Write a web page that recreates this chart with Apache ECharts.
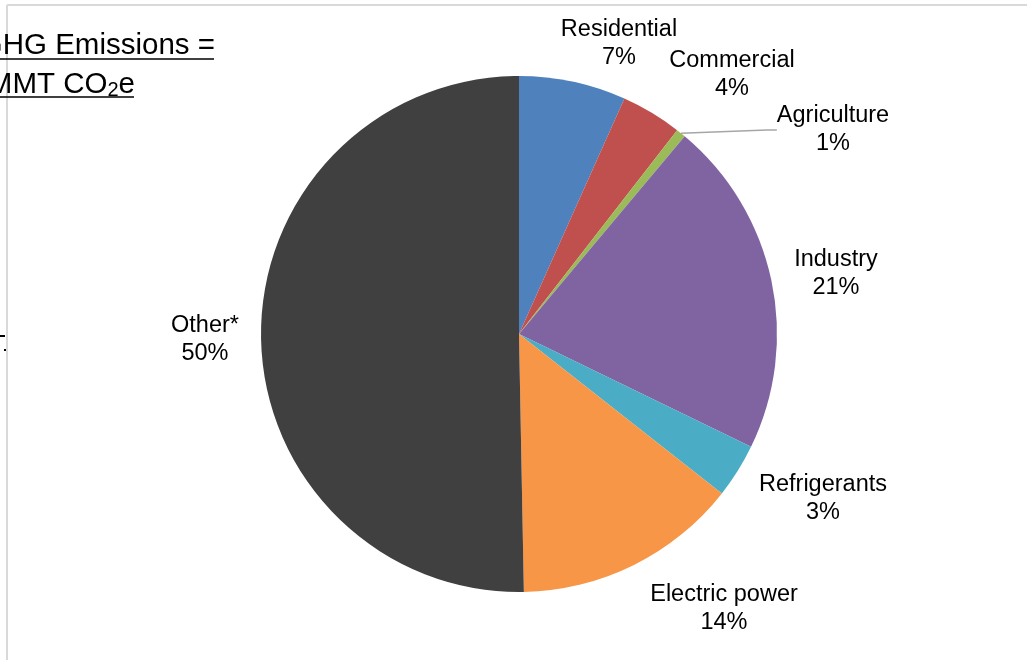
<!DOCTYPE html>
<html>
<head>
<meta charset="utf-8">
<script src="https://cdn.jsdelivr.net/npm/echarts@6/dist/echarts.min.js"></script>
<style>
html,body{margin:0;padding:0;background:#fff;}
#chart{width:1029px;height:660px;}
</style>
</head>
<body>
<div id="chart"></div>
<script>
// Data
var categories = ['Residential', 'Commercial', 'Agriculture', 'Industry', 'Refrigerants', 'Electric power', 'Other*'];
var shares = [6.7, 3.8, 0.6, 21.1, 3.4, 14.1, 50.3];
var colors = ['#4F81BD', '#C0504D', '#9BBB59', '#8064A2', '#4BACC6', '#F79646', '#404040'];
var titleLine1 = 'GHG Emissions =';
var titleLine2a = 'MMT CO';
var titleLine2sub = '2';
var titleLine2b = 'e';

// Layout config for labels (centers)
var labelPos = [
  [619, 44], [732, 75], [833, 130], [836, 274], [823, 499], [724, 609], [205, 340]
];

var chart = echarts.init(document.getElementById('chart'), null, {renderer: 'canvas'});
var font = '"Liberation Sans", Arial, sans-serif';

var data = categories.map(function (c, i) {
  return {
    name: c,
    value: shares[i],
    itemStyle: {color: colors[i]},
    labelLine: {show: c === 'Agriculture', lineStyle: {color: '#A6A6A6', width: 1.5}}
  };
});

chart.setOption({
  animation: false,
  backgroundColor: '#fff',
  graphic: [
    {type: 'line', shape: {x1: 7, y1: 5, x2: 1027, y2: 5}, style: {stroke: '#D9D9D9', lineWidth: 2}},
    {type: 'line', shape: {x1: 7, y1: 5, x2: 7, y2: 660}, style: {stroke: '#D9D9D9', lineWidth: 2}},
    {type: 'rect', shape: {x: 0, y: 335, width: 5, height: 2}, style: {fill: '#000'}},
    {type: 'rect', shape: {x: 4, y: 349, width: 2, height: 2}, style: {fill: '#000'}},
    {type: 'text', x: 215, y: 46, style: {text: titleLine1, font: '29.5px ' + font, fill: '#000', align: 'right', verticalAlign: 'middle'}},
    {type: 'line', shape: {x1: 0, y1: 59, x2: 214, y2: 59}, style: {stroke: '#000', lineWidth: 1.6}},
    {type: 'text', x: 135, y: 85, style: {
      text: '{a|' + titleLine2a + '}{s|' + titleLine2sub + '}{a|' + titleLine2b + '}',
      align: 'right', verticalAlign: 'middle',
      rich: {
        a: {fontSize: 29.5, fontFamily: font, color: '#000', lineHeight: 34},
        s: {fontSize: 20, fontFamily: font, color: '#000', padding: [10, 0, 0, 0], lineHeight: 34}
      }
    }},
    {type: 'line', shape: {x1: 0, y1: 97, x2: 134, y2: 97}, style: {stroke: '#000', lineWidth: 1.6}}
  ],
  series: [{
    type: 'pie',
    center: [519, 334],
    radius: [0, 258],
    startAngle: 90,
    clockwise: true,
    avoidLabelOverlap: false,
    data: data,
    itemStyle: {borderColor: '#fff', borderWidth: 0},
    label: {
      show: true,
      position: 'outside',
      formatter: function (p) { return p.name + '\n' + Math.round(p.percent) + '%'; },
      fontFamily: font,
      fontSize: 23.5,
      color: '#000',
      lineHeight: 28,
      align: 'center'
    },
    labelLine: {length: 10, length2: 10, smooth: false},
    labelLayout: function (params) {
      var p = labelPos[params.dataIndex];
      return {x: p[0], y: p[1], align: 'center', verticalAlign: 'middle'};
    },
    emphasis: {disabled: true}
  }]
});
</script>
</body>
</html>
